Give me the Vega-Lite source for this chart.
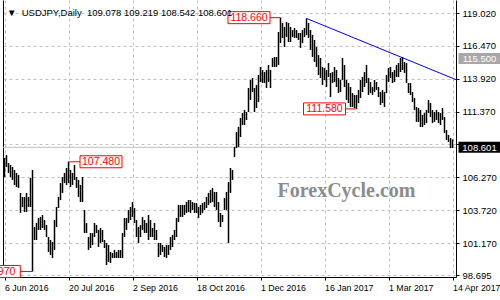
{
  "$schema": "https://vega.github.io/schema/vega-lite/v6.json",
  "width": 453,
  "height": 277,
  "autosize": "none",
  "padding": {"left": 3, "top": 0, "right": 44, "bottom": 23},
  "background": "white",
  "title": {
    "text": "\u25bc\u00a0\u00a0USDJPY,Daily\u00a0\u00a0109.078\u00a0109.219\u00a0108.542\u00a0108.601",
    "anchor": "start",
    "frame": "group",
    "orient": "top",
    "baseline": "bottom",
    "offset": -27,
    "dx": 4,
    "font": "Liberation Sans",
    "fontSize": 9.5,
    "fontWeight": "normal",
    "color": "#000000"
  },
  "config": {"view": {"stroke": null}},
  "datasets": {
    "bars": [
      {"i":0,"h":107.77,"l":106.30},{"i":1,"h":108.01,"l":107.07},{"i":2,"h":107.38,"l":106.61},{"i":3,"h":107.23,"l":106.30},{"i":4,"h":107.07,"l":106.07},{"i":5,"h":106.84,"l":105.68},{"i":6,"h":106.61,"l":105.52},{"i":7,"h":106.45,"l":105.45},{"i":8,"h":105.06,"l":103.51},{"i":9,"h":104.75,"l":103.97},
      {"i":10,"h":104.75,"l":103.58},{"i":11,"h":105.06,"l":103.58},{"i":12,"h":104.75,"l":103.97},{"i":13,"h":106.22,"l":103.97},{"i":14,"h":106.84,"l":98.97},{"i":15,"h":102.42,"l":101.41},{"i":16,"h":102.73,"l":101.41},{"i":17,"h":103.12,"l":102.19},{"i":18,"h":103.20,"l":102.19},{"i":19,"h":103.35,"l":102.34},
      {"i":20,"h":102.96,"l":102.19},{"i":21,"h":102.57,"l":101.64},{"i":22,"h":101.64,"l":100.48},{"i":23,"h":101.41,"l":100.25},{"i":24,"h":101.26,"l":100.01},{"i":25,"h":102.96,"l":100.64},{"i":26,"h":103.97,"l":102.42},{"i":27,"h":104.75,"l":103.89},{"i":28,"h":105.83,"l":104.51},{"i":29,"h":106.30,"l":105.06},
      {"i":30,"h":106.61,"l":105.83},{"i":31,"h":107.00,"l":105.68},{"i":32,"h":107.48,"l":105.83},{"i":33,"h":106.84,"l":105.52},{"i":34,"h":106.61,"l":105.68},{"i":35,"h":107.23,"l":106.07},{"i":36,"h":106.30,"l":105.45},{"i":37,"h":106.07,"l":104.75},{"i":38,"h":105.68,"l":104.36},{"i":39,"h":106.30,"l":104.36},
      {"i":40,"h":103.74,"l":101.95},{"i":41,"h":102.73,"l":101.95},{"i":42,"h":101.64,"l":100.64},{"i":43,"h":101.95,"l":100.79},{"i":44,"h":101.95,"l":101.02},{"i":45,"h":102.73,"l":101.64},{"i":46,"h":102.57,"l":101.95},{"i":47,"h":102.19,"l":100.87},{"i":48,"h":102.34,"l":101.18},{"i":49,"h":102.19,"l":101.26},
      {"i":50,"h":101.41,"l":100.79},{"i":51,"h":101.18,"l":99.47},{"i":52,"h":101.02,"l":99.70},{"i":53,"h":100.48,"l":99.63},{"i":54,"h":100.40,"l":100.01},{"i":55,"h":100.64,"l":100.01},{"i":56,"h":100.48,"l":100.01},{"i":57,"h":100.64,"l":100.01},{"i":58,"h":100.64,"l":100.01},{"i":59,"h":101.95,"l":100.01},
      {"i":60,"h":103.12,"l":101.64},{"i":61,"h":103.12,"l":102.19},{"i":62,"h":103.74,"l":102.73},{"i":63,"h":103.97,"l":102.96},{"i":64,"h":104.36,"l":103.20},{"i":65,"h":103.89,"l":102.73},{"i":66,"h":102.96,"l":101.64},{"i":67,"h":102.42,"l":101.18},{"i":68,"h":102.57,"l":101.64},{"i":69,"h":103.20,"l":102.19},
      {"i":70,"h":102.96,"l":101.95},{"i":71,"h":102.73,"l":101.95},{"i":72,"h":103.35,"l":101.41},{"i":73,"h":102.96,"l":101.64},{"i":74,"h":102.34,"l":101.64},{"i":75,"h":102.73,"l":101.41},{"i":76,"h":102.19,"l":101.41},{"i":77,"h":101.18,"l":100.09},{"i":78,"h":101.18,"l":100.25},{"i":79,"h":101.02,"l":100.48},
      {"i":80,"h":100.87,"l":100.09},{"i":81,"h":101.02,"l":100.01},{"i":82,"h":101.02,"l":100.25},{"i":83,"h":101.64,"l":100.64},{"i":84,"h":101.80,"l":100.87},{"i":85,"h":102.19,"l":101.41},{"i":86,"h":103.12,"l":101.64},{"i":87,"h":104.13,"l":102.81},{"i":88,"h":104.13,"l":103.20},{"i":89,"h":104.13,"l":103.20},
      {"i":90,"h":104.13,"l":103.35},{"i":91,"h":104.36,"l":103.51},{"i":92,"h":104.51,"l":103.58},{"i":93,"h":104.51,"l":103.51},{"i":94,"h":104.36,"l":103.74},{"i":95,"h":104.28,"l":103.51},{"i":96,"h":104.28,"l":103.51},{"i":97,"h":103.97,"l":103.12},{"i":98,"h":104.13,"l":103.35},{"i":99,"h":104.28,"l":103.51},
      {"i":100,"h":104.36,"l":103.74},{"i":101,"h":104.75,"l":103.89},{"i":102,"h":105.06,"l":104.13},{"i":103,"h":105.29,"l":104.28},{"i":104,"h":105.45,"l":104.36},{"i":105,"h":105.14,"l":103.97},{"i":106,"h":105.14,"l":103.74},{"i":107,"h":104.36,"l":102.81},{"i":108,"h":103.51,"l":102.42},{"i":109,"h":103.35,"l":102.81},
      {"i":110,"h":104.67,"l":103.74},{"i":111,"h":105.14,"l":103.74},{"i":112,"h":105.91,"l":101.18},{"i":113,"h":107.00,"l":105.06},{"i":114,"h":106.84,"l":106.07},{"i":115,"h":108.63,"l":107.85},{"i":116,"h":109.79,"l":108.54},{"i":117,"h":110.18,"l":108.63},{"i":118,"h":110.88,"l":109.40},{"i":119,"h":111.26,"l":110.33},
      {"i":120,"h":111.50,"l":110.33},{"i":121,"h":111.34,"l":110.72},{"i":122,"h":113.20,"l":111.34},{"i":123,"h":113.82,"l":112.27},{"i":124,"h":113.98,"l":112.89},{"i":125,"h":113.20,"l":111.34},{"i":126,"h":113.44,"l":111.65},{"i":127,"h":114.21,"l":112.12},{"i":128,"h":114.83,"l":113.67},{"i":129,"h":114.60,"l":113.59},
      {"i":130,"h":114.44,"l":113.59},{"i":131,"h":114.60,"l":113.20},{"i":132,"h":114.99,"l":113.67},{"i":133,"h":114.60,"l":113.20},{"i":134,"h":115.53,"l":114.83},{"i":135,"h":115.61,"l":114.83},{"i":136,"h":115.61,"l":114.83},{"i":137,"h":117.55,"l":114.99},{"i":138,"h":118.66,"l":116.69},{"i":139,"h":118.25,"l":117.08},
      {"i":140,"h":117.94,"l":116.38},{"i":141,"h":118.32,"l":117.16},{"i":142,"h":118.25,"l":116.77},{"i":143,"h":117.94,"l":116.77},{"i":144,"h":117.70,"l":117.16},{"i":145,"h":117.86,"l":117.08},{"i":146,"h":117.70,"l":117.08},{"i":147,"h":117.47,"l":116.93},{"i":148,"h":117.47,"l":116.31},{"i":149,"h":117.70,"l":116.69},
      {"i":150,"h":117.86,"l":117.16},{"i":151,"h":118.60,"l":117.32},{"i":152,"h":118.25,"l":117.08},{"i":153,"h":117.70,"l":116.15},{"i":154,"h":117.32,"l":115.61},{"i":155,"h":116.93,"l":115.22},{"i":156,"h":116.38,"l":114.83},{"i":157,"h":115.76,"l":114.21},{"i":158,"h":115.53,"l":113.98},{"i":159,"h":114.83,"l":113.44},
      {"i":160,"h":114.75,"l":113.82},{"i":161,"h":114.60,"l":113.28},{"i":162,"h":115.14,"l":114.06},{"i":163,"h":114.37,"l":112.50},{"i":164,"h":114.44,"l":113.59},{"i":165,"h":114.83,"l":113.67},{"i":166,"h":114.60,"l":113.28},{"i":167,"h":113.98,"l":112.81},{"i":168,"h":113.82,"l":112.89},{"i":169,"h":115.53,"l":113.82},
      {"i":170,"h":114.99,"l":113.28},{"i":171,"h":113.82,"l":112.27},{"i":172,"h":113.59,"l":112.04},{"i":173,"h":113.28,"l":111.73},{"i":174,"h":112.81,"l":111.73},{"i":175,"h":112.66,"l":111.65},{"i":176,"h":112.66,"l":111.58},{"i":177,"h":113.05,"l":112.04},{"i":178,"h":113.82,"l":112.43},{"i":179,"h":114.06,"l":112.89},
      {"i":180,"h":114.44,"l":113.28},{"i":181,"h":114.99,"l":113.59},{"i":182,"h":113.98,"l":112.66},{"i":183,"h":113.67,"l":112.81},{"i":184,"h":113.28,"l":112.66},{"i":185,"h":113.82,"l":112.89},{"i":186,"h":113.67,"l":113.05},{"i":187,"h":113.28,"l":112.50},{"i":188,"h":112.89,"l":111.88},{"i":189,"h":113.05,"l":112.04},
      {"i":190,"h":112.89,"l":111.73},{"i":191,"h":114.21,"l":112.81},{"i":192,"h":114.75,"l":113.67},{"i":193,"h":114.83,"l":113.98},{"i":194,"h":114.44,"l":113.59},{"i":195,"h":114.60,"l":113.67},{"i":196,"h":114.99,"l":114.06},{"i":197,"h":115.14,"l":114.06},{"i":198,"h":115.53,"l":114.44},{"i":199,"h":115.61,"l":114.60},
      {"i":200,"h":115.22,"l":114.37},{"i":201,"h":115.14,"l":113.59},{"i":202,"h":113.59,"l":112.81},{"i":203,"h":113.59,"l":112.66},{"i":204,"h":112.89,"l":112.12},{"i":205,"h":112.43,"l":111.50},{"i":206,"h":111.73,"l":110.57},{"i":207,"h":111.65,"l":110.57},{"i":208,"h":111.50,"l":110.18},{"i":209,"h":111.11,"l":110.18},
      {"i":210,"h":111.26,"l":110.33},{"i":211,"h":111.50,"l":110.49},{"i":212,"h":112.27,"l":111.26},{"i":213,"h":112.04,"l":110.95},{"i":214,"h":111.50,"l":110.49},{"i":215,"h":111.34,"l":110.57},{"i":216,"h":111.50,"l":110.72},{"i":217,"h":111.34,"l":110.49},{"i":218,"h":111.26,"l":110.33},{"i":219,"h":111.65,"l":110.72},
      {"i":220,"h":110.95,"l":109.71},{"i":221,"h":109.95,"l":109.17},{"i":222,"h":109.56,"l":109.01},{"i":223,"h":109.32,"l":108.54},{"i":224,"h":109.219,"l":108.542}
    ],
    "trend": [{"i":151,"p":118.6},{"i":225.75,"p":113.85}],
    "bid": [{"p":108.601}],
    "notes": [
      {"t":"118.660","i":138,"p":118.66,"lx":122.25},
      {"t":"107.480","i":32,"p":107.48,"lx":48.25},
      {"t":"111.580","i":176,"p":111.58,"lx":160},
      {"t":"98.970","i":14,"p":98.97,"lx":-2.6}
    ],
    "priceboxes": [
      {"t":"115.500","p":115.5,"k":"trend","lx":237.5},
      {"t":"108.601","p":108.601,"k":"bid","lx":237.5}
    ],
    "mark": [{"t":"ForexCycle.com","i":171,"p":105.2}]
  },
  "resolve": {"axis": {"y": "independent"}},
  "layer": [
    {
      "data": {"name": "bid"},
      "mark": {"type": "rule", "color": "#c0c0c0", "strokeWidth": 1},
      "encoding": {
        "y": {"field": "p", "type": "quantitative", "axis": null}
      }
    },
    {
      "data": {"name": "mark"},
      "mark": {"type": "text", "font": "Liberation Serif", "fontSize": 20, "fontWeight": "bold", "color": "#8c8c8c", "align": "center", "baseline": "middle"},
      "encoding": {
        "x": {"field": "i", "type": "quantitative"},
        "y": {"field": "p", "type": "quantitative", "axis": null},
        "text": {"field": "t"}
      }
    },
    {
      "data": {"name": "bars"},
      "mark": {"type": "rule", "color": "#000000", "strokeWidth": 1.5},
      "encoding": {
        "x": {
          "field": "i", "type": "quantitative",
          "scale": {"domain": [-0.75, 225.75], "nice": false, "zero": false},
          "axis": {
            "title": null,
            "values": [0,16,32,48,64,80,96,112,128,144,160,176,192,208,224],
            "labelExpr": "datum.value % 32 == 0 ? ['6 Jun 2016','20 Jul 2016','2 Sep 2016','18 Oct 2016','1 Dec 2016','16 Jan 2017','1 Mar 2017','14 Apr 2017'][datum.value / 32] : ''",
            "grid": true, "gridColor": "#c0c0c0", "gridDash": [3, 3], "gridWidth": 1,
            "domainColor": "#000000", "tickColor": "#000000", "tickSize": 3,
            "labelAlign": "left", "labelColor": "#000000", "labelFont": "Liberation Sans", "labelFontSize": 8.8,
            "labelPadding": 3, "labelFlush": false, "labelOverlap": false, "labelBound": false, "labelDx": -3
          }
        },
        "y": {
          "field": "h", "type": "quantitative",
          "scale": {"domain": [98.54, 120.03], "nice": false, "zero": false},
          "axis": {
            "orient": "right", "title": null,
            "values": [98.695, 101.17, 103.72, 106.27, 108.82, 111.37, 113.92, 116.47, 119.02],
            "labelExpr": "datum.value == 108.82 ? '' : format(datum.value, '.3f')",
            "grid": true, "gridColor": "#c0c0c0", "gridDash": [3, 3], "gridWidth": 1,
            "domainColor": "#000000", "tickColor": "#000000", "tickSize": 3,
            "labelColor": "#000000", "labelFont": "Liberation Sans", "labelFontSize": 9.5,
            "labelPadding": 3, "labelFlush": false, "labelOverlap": false, "labelBound": false
          }
        },
        "y2": {"field": "l"}
      }
    },
    {
      "data": {"name": "trend"},
      "mark": {"type": "line", "color": "#0000ff", "strokeWidth": 1},
      "encoding": {
        "x": {"field": "i", "type": "quantitative"},
        "y": {
          "field": "p", "type": "quantitative",
          "axis": {"orient": "left", "title": null, "labels": false, "ticks": false, "grid": false, "domain": true, "domainColor": "#000000"}
        }
      }
    },
    {
      "data": {"name": "notes"},
      "mark": {"type": "rule", "color": "#ff0000", "strokeWidth": 1},
      "encoding": {
        "x": {"field": "i", "type": "quantitative"},
        "x2": {"field": "lx"},
        "y": {"field": "p", "type": "quantitative", "axis": null}
      }
    },
    {
      "data": {"name": "notes"},
      "mark": {"type": "rect", "width": 42, "height": 12, "fill": "#ffffff", "stroke": "#ff0000", "strokeWidth": 1},
      "encoding": {
        "x": {"field": "lx", "type": "quantitative"},
        "y": {"field": "p", "type": "quantitative", "axis": null}
      }
    },
    {
      "data": {"name": "notes"},
      "mark": {"type": "text", "font": "Liberation Sans", "fontSize": 10.5, "color": "#ff0000", "align": "center", "baseline": "middle", "dy": 0.5},
      "encoding": {
        "x": {"field": "lx", "type": "quantitative"},
        "y": {"field": "p", "type": "quantitative", "axis": null},
        "text": {"field": "t"}
      }
    },
    {
      "data": {"name": "priceboxes"},
      "mark": {"type": "rect", "width": 42, "height": 11},
      "encoding": {
        "x": {"field": "lx", "type": "quantitative"},
        "y": {"field": "p", "type": "quantitative", "axis": null},
        "fill": {"field": "k", "type": "nominal", "scale": {"domain": ["trend", "bid"], "range": ["#a8a8a8", "#000000"]}, "legend": null}
      }
    },
    {
      "data": {"name": "priceboxes"},
      "mark": {"type": "text", "font": "Liberation Sans", "fontSize": 9.5, "color": "#ffffff", "align": "center", "baseline": "middle", "dy": 0.5},
      "encoding": {
        "x": {"field": "lx", "type": "quantitative"},
        "y": {"field": "p", "type": "quantitative", "axis": null},
        "text": {"field": "t"}
      }
    }
  ]
}
